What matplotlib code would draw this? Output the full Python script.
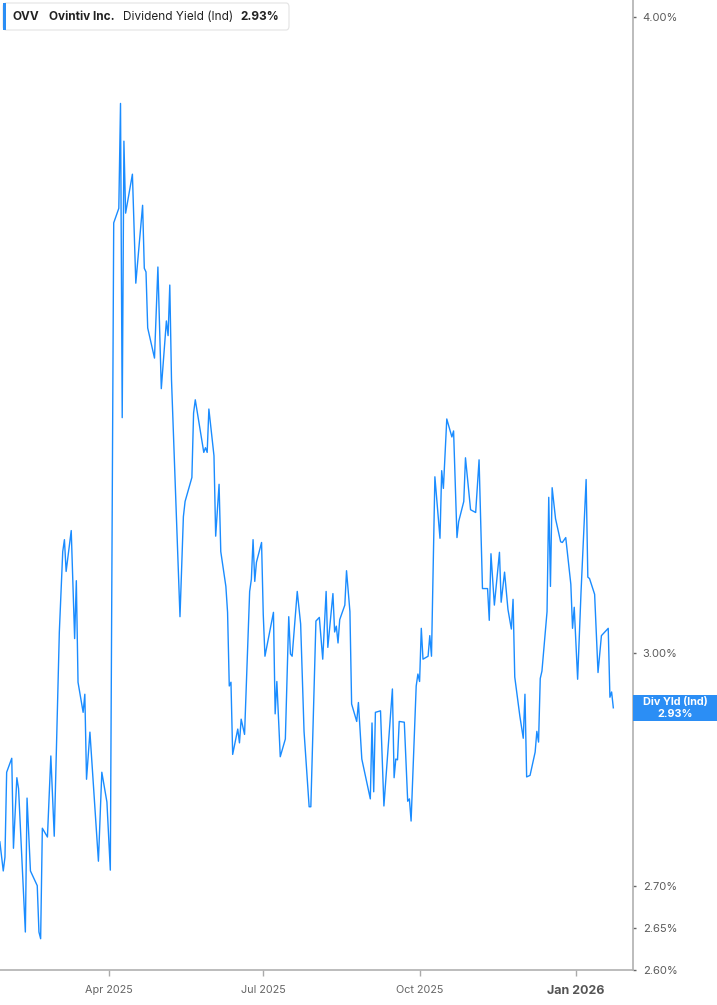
import pandas as pd
import matplotlib
matplotlib.use("Agg")
import matplotlib.pyplot as plt
from matplotlib.ticker import FixedLocator, FuncFormatter, NullLocator
from matplotlib.patches import FancyBboxPatch, Rectangle

plt.rcParams["font.family"] = ["Inter", "DejaVu Sans"]

LINE_BLUE = "#1a8cff"
LABEL_BLUE = "#2b8ef5"

dates = [
    "2025-01-27", "2025-01-29", "2025-01-30", "2025-01-31", "2025-02-03", "2025-02-04",
    "2025-02-06", "2025-02-07", "2025-02-11", "2025-02-12", "2025-02-14", "2025-02-18",
    "2025-02-19", "2025-02-20", "2025-02-21", "2025-02-24", "2025-02-26", "2025-02-28",
    "2025-03-03", "2025-03-05", "2025-03-06", "2025-03-07", "2025-03-10", "2025-03-12",
    "2025-03-13", "2025-03-14", "2025-03-17", "2025-03-18", "2025-03-19", "2025-03-21",
    "2025-03-26", "2025-03-28", "2025-03-31", "2025-04-02", "2025-04-04", "2025-04-07",
    "2025-04-08", "2025-04-09", "2025-04-10", "2025-04-11", "2025-04-15", "2025-04-17",
    "2025-04-21", "2025-04-22", "2025-04-23", "2025-04-24", "2025-04-28", "2025-04-30",
    "2025-05-02", "2025-05-05", "2025-05-06", "2025-05-07", "2025-05-08", "2025-05-13",
    "2025-05-15", "2025-05-16", "2025-05-20", "2025-05-21", "2025-05-22", "2025-05-27",
    "2025-05-28", "2025-05-29", "2025-05-30", "2025-06-02", "2025-06-03", "2025-06-05",
    "2025-06-06", "2025-06-09", "2025-06-10", "2025-06-11", "2025-06-12", "2025-06-13",
    "2025-06-16", "2025-06-17", "2025-06-18", "2025-06-20", "2025-06-23", "2025-06-24",
    "2025-06-25", "2025-06-26", "2025-06-27", "2025-06-30", "2025-07-01", "2025-07-02",
    "2025-07-07", "2025-07-08", "2025-07-09", "2025-07-11", "2025-07-14", "2025-07-16",
    "2025-07-17", "2025-07-18", "2025-07-21", "2025-07-23", "2025-07-25", "2025-07-28",
    "2025-07-29", "2025-08-01", "2025-08-03", "2025-08-05", "2025-08-07", "2025-08-08",
    "2025-08-11", "2025-08-12", "2025-08-13", "2025-08-14", "2025-08-15", "2025-08-18",
    "2025-08-19", "2025-08-21", "2025-08-22", "2025-08-25", "2025-08-26", "2025-08-28",
    "2025-09-02", "2025-09-03", "2025-09-04", "2025-09-05", "2025-09-08", "2025-09-10",
    "2025-09-15", "2025-09-16", "2025-09-17", "2025-09-18", "2025-09-19", "2025-09-22",
    "2025-09-24", "2025-09-25", "2025-09-26", "2025-09-29", "2025-09-30", "2025-10-01",
    "2025-10-02", "2025-10-03", "2025-10-06", "2025-10-07", "2025-10-08", "2025-10-10",
    "2025-10-13", "2025-10-14", "2025-10-15", "2025-10-17", "2025-10-20", "2025-10-21",
    "2025-10-23", "2025-10-24", "2025-10-27", "2025-10-28", "2025-10-29", "2025-10-31",
    "2025-11-03", "2025-11-05", "2025-11-07", "2025-11-10", "2025-11-11", "2025-11-12",
    "2025-11-14", "2025-11-17", "2025-11-18", "2025-11-20", "2025-11-22", "2025-11-24",
    "2025-11-25", "2025-11-26", "2025-11-29", "2025-12-01", "2025-12-02", "2025-12-03",
    "2025-12-05", "2025-12-08", "2025-12-09", "2025-12-10", "2025-12-11", "2025-12-12",
    "2025-12-15", "2025-12-16", "2025-12-17", "2025-12-18", "2025-12-20", "2025-12-23",
    "2025-12-24", "2025-12-26", "2025-12-29", "2025-12-30", "2025-12-31", "2026-01-02",
    "2026-01-04", "2026-01-07", "2026-01-08", "2026-01-09", "2026-01-12", "2026-01-14",
    "2026-01-16", "2026-01-20", "2026-01-21", "2026-01-22", "2026-01-23",
]

yields = [
    2.755, 2.719, 2.736, 2.843, 2.861, 2.747,
    2.836, 2.822, 2.645, 2.810, 2.719, 2.701,
    2.645, 2.637, 2.772, 2.761, 2.864, 2.762,
    3.029, 3.141, 3.158, 3.113, 3.171, 3.020,
    3.100, 2.961, 2.921, 2.945, 2.834, 2.895,
    2.731, 2.843, 2.805, 2.720, 3.644, 3.668,
    3.846, 3.337, 3.781, 3.660, 3.725, 3.546,
    3.673, 3.570, 3.564, 3.475, 3.428, 3.572,
    3.381, 3.486, 3.463, 3.543, 3.395, 3.050,
    3.191, 3.213, 3.248, 3.344, 3.364, 3.285,
    3.292, 3.285, 3.350, 3.280, 3.163, 3.238,
    3.141, 3.092, 3.056, 2.956, 2.961, 2.866,
    2.899, 2.881, 2.912, 2.892, 3.085, 3.102,
    3.158, 3.099, 3.126, 3.154, 3.053, 2.996,
    3.056, 2.919, 2.962, 2.863, 2.886, 3.050,
    2.999, 2.996, 3.085, 3.040, 2.896, 2.799,
    2.799, 3.044, 3.049, 2.992, 3.085, 3.008,
    3.082, 3.029, 3.037, 3.014, 3.046, 3.066,
    3.114, 3.057, 2.932, 2.909, 2.934, 2.860,
    2.809, 2.907, 2.818, 2.921, 2.923, 2.800,
    2.952, 2.836, 2.860, 2.859, 2.909, 2.908,
    2.806, 2.809, 2.781, 2.956, 2.972, 2.962,
    3.034, 2.992, 2.996, 3.024, 2.996, 3.249,
    3.160, 3.258, 3.232, 3.335, 3.308, 3.317,
    3.161, 3.184, 3.213, 3.277, 3.252, 3.201,
    3.197, 3.274, 3.089, 3.089, 3.045, 3.138,
    3.066, 3.140, 3.070, 3.112, 3.060, 3.033,
    3.074, 2.968, 2.916, 2.887, 2.945, 2.837,
    2.839, 2.869, 2.896, 2.882, 2.966, 2.976,
    3.057, 3.219, 3.092, 3.233, 3.188, 3.155,
    3.154, 3.161, 3.095, 3.034, 3.063, 2.965,
    3.084, 3.245, 3.105, 3.103, 3.081, 2.974,
    3.024, 3.034, 2.941, 2.948, 2.927,
]

ytick_vals = [2.60, 2.65, 2.70, 3.00, 4.00]
xtick_dates = ["2025-04-01", "2025-07-01", "2025-10-01", "2026-01-01"]
xtick_labels = ["Apr 2025", "Jul 2025", "Oct 2025", "Jan 2026"]

ticker = "OVV"
company = "Ovintiv Inc."
metric = "Dividend Yield (Ind)"
short_metric = "Div Yld (Ind)"

df = pd.DataFrame({"date": pd.to_datetime(dates), "yield": yields})
last = df["yield"].iloc[-1]

W, H = 717, 1005
fig = plt.figure(figsize=(W / 100, H / 100), dpi=100)
ax = fig.add_axes([0, 1 - 970 / H, 633 / W, 970 / H])

ax.plot(df["date"], df["yield"], color=LINE_BLUE, lw=1.0)

ax.set_yscale("log")
ax.set_ylim(2.60, 4.03)
ax.set_xlim(pd.Timestamp("2025-01-27 02:00"), pd.Timestamp("2026-02-03 14:00"))

ax.yaxis.tick_right()
ax.yaxis.set_major_locator(FixedLocator(ytick_vals))
ax.yaxis.set_minor_locator(NullLocator())
ax.yaxis.set_major_formatter(FuncFormatter(lambda v, p: f"{v:.2f}%"))
ax.tick_params(axis="y", which="major", length=2, width=1, color="#666666",
               labelsize=8, labelcolor="#5a5a5a", pad=5)

ax.set_xticks(pd.to_datetime(xtick_dates))
ax.set_xticklabels(xtick_labels)
ax.tick_params(axis="x", length=4, width=1, color="#aaaaaa",
               labelsize=7.8, labelcolor="#666666", pad=7)
jan = ax.get_xticklabels()[-1]
jan.set_fontweight("bold")
jan.set_fontsize(9)
jan.set_color("#555555")

for side in ["top", "left"]:
    ax.spines[side].set_visible(False)
ax.spines["right"].set_color("#b0b0b0")
ax.spines["bottom"].set_color("#b0b0b0")
ax.spines["right"].set_linewidth(1.2)
ax.spines["bottom"].set_linewidth(1.2)

# legend box at top left
box = FancyBboxPatch((3 / W, 1 - 30 / H), 286 / W, 27 / H,
                     boxstyle="round,pad=0,rounding_size=0.004",
                     transform=fig.transFigure, facecolor="white",
                     edgecolor="#e3e3e3", lw=0.8, zorder=5)
fig.patches.append(box)
fig.patches.append(Rectangle((3 / W, 1 - 30 / H), 3 / W, 27 / H,
                             transform=fig.transFigure, facecolor=LABEL_BLUE,
                             edgecolor="none", zorder=6))
ty = 1 - 16.5 / H
fig.text(13 / W, ty, ticker, fontsize=8.5, fontweight="bold", color="#222222",
         va="center", zorder=7)
fig.text(49 / W, ty, company, fontsize=8.5, fontweight="bold", color="#222222",
         va="center", zorder=7)
fig.text(123 / W, ty, metric, fontsize=8.5, color="#222222", va="center", zorder=7)
fig.text(240 / W, ty, f"{last:.2f}%", fontsize=8.5, fontweight="bold",
         color="#222222", va="center", zorder=7)

# last value label on the right axis
fig.canvas.draw()
y_disp = ax.transData.transform((ax.get_xlim()[0], last))[1]
y_fig = y_disp / fig.bbox.height
h_box = 26 / H
fig.patches.append(Rectangle((633 / W, y_fig - h_box / 2), 1 - 633 / W, h_box,
                             transform=fig.transFigure, facecolor=LABEL_BLUE,
                             edgecolor="none", zorder=6))
x_mid = (633 + 717) / 2 / W
fig.text(x_mid, y_fig + 6 / H, short_metric, fontsize=7.8, fontweight="bold",
         color="white", ha="center", va="center", zorder=7)
fig.text(x_mid, y_fig - 6 / H, f"{last:.2f}%", fontsize=7.8, fontweight="bold",
         color="white", ha="center", va="center", zorder=7)

fig.savefig("out.png", dpi=100)
